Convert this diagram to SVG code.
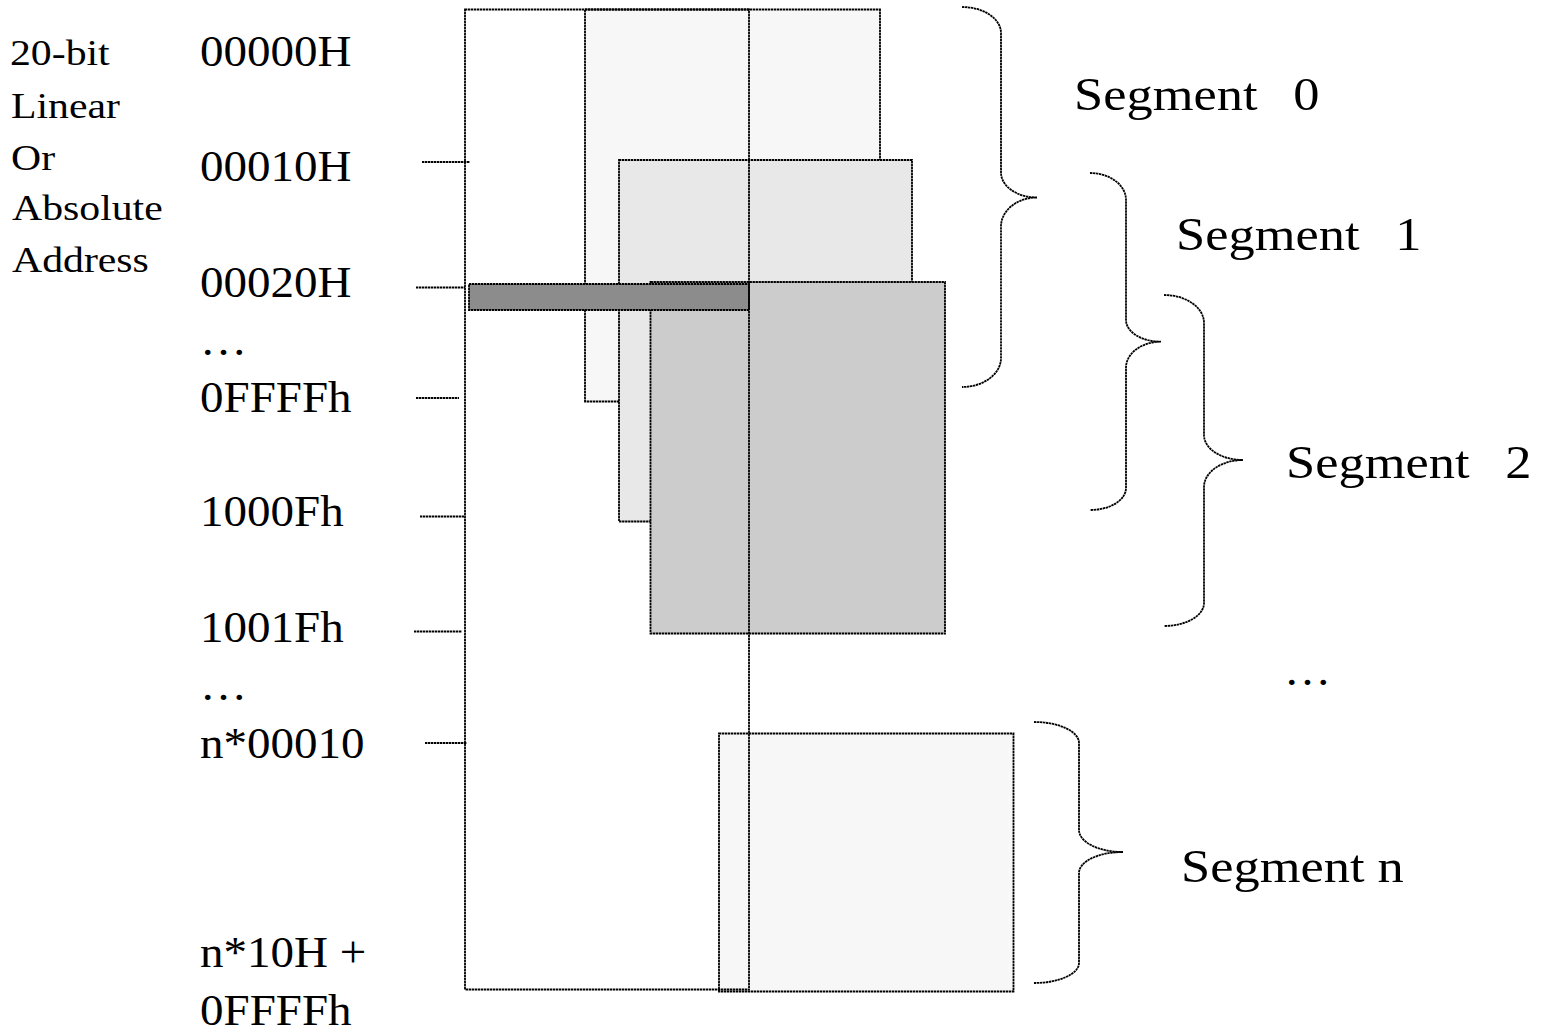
<svg xmlns="http://www.w3.org/2000/svg" width="1542" height="1033" viewBox="0 0 1542 1033">
  <style>
    .ln { stroke: #000; stroke-width: 1.8; stroke-dasharray: 2.4 0.6; fill: none; }
    .box { stroke: #000; stroke-width: 1.8; stroke-dasharray: 2.4 0.6; }
    .note { font-family: "Liberation Serif", "Times New Roman", serif; font-size: 36px; fill: #000; }
    .addr { font-family: "Liberation Serif", "Times New Roman", serif; font-size: 45px; fill: #000; }
    .seg { font-family: "Liberation Serif", "Times New Roman", serif; font-size: 46px; fill: #000; }
  </style>

  <rect width="1542" height="1033" fill="#fff"/>

  <!-- overlapping 64 KB segments -->
  <g id="segment-0">
    <rect class="box" x="585" y="9.5" width="295" height="392" fill="#f7f7f7"/>
  </g>
  <g id="segment-1">
    <rect class="box" x="619" y="160" width="293" height="361.5" fill="#e8e8e8"/>
  </g>
  <g id="segment-2">
    <rect class="box" x="650.5" y="282" width="294.5" height="351.5" fill="#cccccc"/>
  </g>
  <g id="offset-bar">
    <rect class="box" x="469" y="284" width="280" height="26" fill="#8c8c8c"/>
  </g>
  <g id="segment-n">
    <rect class="box" x="719" y="733.5" width="294.5" height="258" fill="#f7f7f7"/>
  </g>

  <!-- linear memory column -->
  <g id="memory-column">
    <rect class="ln" x="465" y="9.5" width="284" height="980"/>
  </g>

  <g id="connectors">
    <!-- address ticks -->
    <line class="ln" x1="422" y1="162" x2="470" y2="162"/>
    <line class="ln" x1="416" y1="287.5" x2="465" y2="287.5"/>
    <line class="ln" x1="416" y1="398" x2="459" y2="398"/>
    <line class="ln" x1="420" y1="516.5" x2="464" y2="516.5"/>
    <line class="ln" x1="414" y1="631.5" x2="462" y2="631.5"/>
    <line class="ln" x1="425" y1="743" x2="467" y2="743"/>
    <!-- segment braces -->
    <path class="ln" d="M962,7 C983.5,7 1001,18.7 1001,33 L1001,172.5 C1001,186.3 1017.1,197.5 1037,197.5 C1017.1,197.5 1001,210.5 1001,226.5 L1001,358 C1001,374 983.5,387 962,387"/>
    <path class="ln" d="M1090,173 C1109.9,173 1126,185.1 1126,200 L1126,320 C1126,332 1141.7,341.7 1161,341.7 C1141.7,341.7 1126,353.3 1126,367.7 L1126,488 C1126,500.1 1109.9,510 1090,510"/>
    <path class="ln" d="M1164,295 C1186.1,295 1204,307.5 1204,323 L1204,435 C1204,448.8 1221.5,460 1243,460 C1221.5,460 1204,472.1 1204,487 L1204,603 C1204,615.7 1186.1,626 1164,626"/>
    <path class="ln" d="M1034,722 C1058.8,722 1079,731.4 1079,743 L1079,830 C1079,842.1 1098.7,852 1123,852 C1098.7,852 1079,861.4 1079,873 L1079,963 C1079,974 1058.8,983 1034,983"/>
  </g>

  <g id="axis-title">
    <text class="note" transform="translate(10 65) scale(1.16 1)">20-bit</text>
    <text class="note" transform="translate(11 118) scale(1.16 1)">Linear</text>
    <text class="note" transform="translate(11 170) scale(1.16 1)">Or</text>
    <text class="note" transform="translate(12 220) scale(1.16 1)">Absolute</text>
    <text class="note" transform="translate(12 271.5) scale(1.16 1)">Address</text>
  </g>

  <g id="address-labels">
    <text class="addr" transform="translate(200 65.5) scale(1.045 1)">00000H</text>
    <text class="addr" transform="translate(200 181) scale(1.045 1)">00010H</text>
    <text class="addr" transform="translate(200 297) scale(1.045 1)">00020H</text>
    <text class="addr" transform="translate(200 355) scale(1.045 1)">…</text>
    <text class="addr" transform="translate(200 411.5) scale(1.045 1)">0FFFFh</text>
    <text class="addr" transform="translate(200 526) scale(1.045 1)">1000Fh</text>
    <text class="addr" transform="translate(200 641.5) scale(1.045 1)">1001Fh</text>
    <text class="addr" transform="translate(200 700) scale(1.045 1)">…</text>
    <text class="addr" transform="translate(200 758) scale(1.045 1)">n*00010</text>
    <text class="addr" transform="translate(200 966.5) scale(1.045 1)">n*10H +</text>
    <text class="addr" transform="translate(200 1025) scale(1.045 1)">0FFFFh</text>
  </g>

  <g id="segment-labels">
    <text class="seg" transform="translate(1074 110) scale(1.14 1)">Segment <tspan dx="20">0</tspan></text>
    <text class="seg" transform="translate(1176 250) scale(1.14 1)">Segment <tspan dx="20">1</tspan></text>
    <text class="seg" transform="translate(1286 478) scale(1.14 1)">Segment <tspan dx="20">2</tspan></text>
    <text class="addr" transform="translate(1284 685) scale(1.045 1)">…</text>
    <text class="seg" transform="translate(1181 881.5) scale(1.14 1)">Segment n</text>
  </g>
</svg>
